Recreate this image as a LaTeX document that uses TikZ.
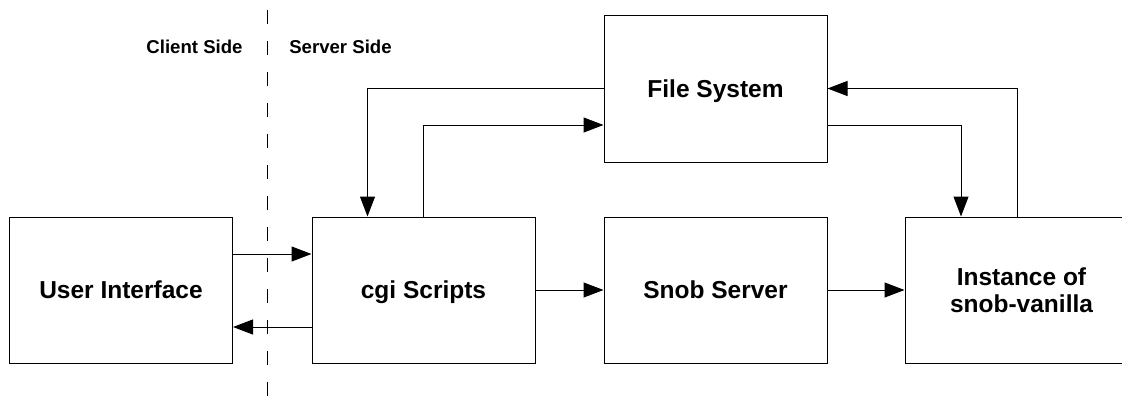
\documentclass[tikz,border=0pt]{standalone}
\usepackage{fontspec}
\setmainfont{Liberation Sans}
\usetikzlibrary{arrows.meta,positioning}

\begin{document}
\begin{tikzpicture}[
  x=1pt, y=-1pt,
  >={Triangle[length=20pt,width=15pt]},
  block/.style={rectangle, draw=black, line width=1pt,
                minimum width=223pt, minimum height=146pt,
                inner sep=0pt, text depth=0pt, align=center,
                font=\fontsize{24.5}{27}\selectfont\bfseries},
  flow/.style={->, line width=1pt, black},
  divider/.style={line width=1pt, black, dash pattern=on 14pt off 17pt},
  side/.style={font=\fontsize{18.6}{22}\selectfont\bfseries, inner sep=0pt}]
\useasboundingbox (0,0) rectangle (1122,400);
% boxes, one row plus the file system above
\node[block] (ui)   at (121,290)    {User Interface};
\node[block] (cgi)  at (423.5,290)  {cgi Scripts};
\node[block] (snob) at (715.5,290)  {Snob Server};
\node[block, minimum width=233pt] (inst) at (1021.5,290) {Instance of\\snob-vanilla};
\node[block, minimum height=147pt] (fs) at (715.5,88.5) {File System};
% client / server split
\coordinate (divtop) at (267,10);
\coordinate (divbot) at (267,400);
\draw[divider] (divtop) -- (divbot);
\node[side] (client) at (194.5,47) {Client Side};
\node[side] (server) at (340.5,47) {Server Side};
% request and reply across the split
\draw[flow] ([yshift=36pt]ui.east) -- ([yshift=36pt]cgi.west);
\draw[flow] ([yshift=-37pt]cgi.west) -- ([yshift=-37pt]ui.east);
% main chain
\draw[flow] (cgi) -- (snob);
\draw[flow] (snob) -- (inst);
% file system traffic
\draw[flow] (fs.west) -| ([xshift=-56pt]cgi.north);
\draw[flow] (cgi.north) |- ([yshift=-36.5pt]fs.west);
\draw[flow] ([yshift=-36.5pt]fs.east) -| ([xshift=-60.5pt]inst.north);
\draw[flow] ([xshift=-4.5pt]inst.north) |- (fs.east);
\end{tikzpicture}
\end{document}
